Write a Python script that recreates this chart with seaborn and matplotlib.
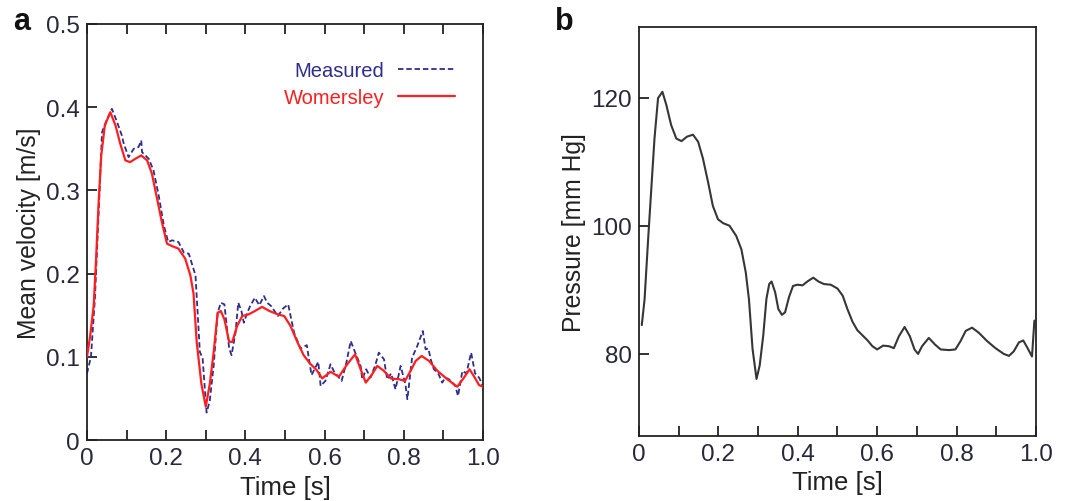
import numpy as np
import pandas as pd
import matplotlib
matplotlib.use("Agg")
import matplotlib.pyplot as plt
import seaborn as sns

# ---------------- data ----------------
# Panel a: Womersley (model) mean velocity [m/s]
wom_t = [0.0, 0.008, 0.017, 0.023, 0.029, 0.036, 0.045, 0.059, 0.072, 0.084, 0.097, 0.109,
         0.122, 0.137, 0.152, 0.164, 0.177, 0.189, 0.202, 0.215, 0.231, 0.248, 0.261, 0.269,
         0.277, 0.289, 0.3, 0.31, 0.32, 0.33, 0.338, 0.347, 0.359, 0.367, 0.379, 0.392,
         0.408, 0.424, 0.442, 0.461, 0.482, 0.498, 0.514, 0.531, 0.547, 0.563, 0.58, 0.594,
         0.615, 0.636, 0.657, 0.677, 0.691, 0.704, 0.72, 0.733, 0.75, 0.767, 0.788, 0.803,
         0.817, 0.83, 0.845, 0.864, 0.885, 0.91, 0.935, 0.952, 0.966, 0.978, 0.99, 1.0]
wom_v = [0.100, 0.125, 0.162, 0.218, 0.282, 0.342, 0.378, 0.394, 0.378, 0.356, 0.336, 0.334,
         0.338, 0.342, 0.336, 0.320, 0.290, 0.262, 0.236, 0.233, 0.230, 0.218, 0.198, 0.176,
         0.118, 0.067, 0.040, 0.067, 0.106, 0.153, 0.155, 0.145, 0.118, 0.118, 0.137, 0.149,
         0.151, 0.155, 0.160, 0.155, 0.151, 0.149, 0.137, 0.118, 0.102, 0.092, 0.084, 0.074,
         0.082, 0.076, 0.091, 0.103, 0.085, 0.069, 0.079, 0.089, 0.083, 0.074, 0.073, 0.071,
         0.083, 0.095, 0.101, 0.095, 0.083, 0.073, 0.064, 0.075, 0.085, 0.076, 0.066, 0.064]

# Panel a: measured mean velocity [m/s]
meas_t = [0.0, 0.01, 0.02, 0.03, 0.038, 0.05, 0.063, 0.076, 0.088, 0.093, 0.105, 0.118,
          0.13, 0.137, 0.139, 0.156, 0.168, 0.181, 0.194, 0.205, 0.215, 0.231, 0.245, 0.257,
          0.274, 0.285, 0.292, 0.302, 0.31, 0.32, 0.33, 0.338, 0.347, 0.359, 0.365, 0.375,
          0.382, 0.39, 0.396, 0.404, 0.412, 0.424, 0.435, 0.447, 0.455, 0.465, 0.482, 0.495,
          0.508, 0.523, 0.539, 0.555, 0.567, 0.584, 0.59, 0.602, 0.615, 0.623, 0.643, 0.655,
          0.666, 0.674, 0.691, 0.695, 0.705, 0.716, 0.728, 0.737, 0.75, 0.758, 0.768, 0.779,
          0.792, 0.804, 0.809, 0.821, 0.834, 0.848, 0.855, 0.862, 0.868, 0.876, 0.887, 0.897,
          0.905, 0.914, 0.93, 0.937, 0.948, 0.958, 0.97, 0.98, 0.99, 1.0]
meas_v = [0.080, 0.100, 0.170, 0.280, 0.370, 0.385, 0.398, 0.382, 0.366, 0.356, 0.340, 0.350,
          0.352, 0.360, 0.346, 0.338, 0.324, 0.294, 0.258, 0.238, 0.240, 0.238, 0.225, 0.224,
          0.198, 0.106, 0.098, 0.033, 0.047, 0.090, 0.153, 0.165, 0.163, 0.110, 0.102, 0.129,
          0.165, 0.155, 0.141, 0.152, 0.161, 0.171, 0.162, 0.173, 0.165, 0.161, 0.149, 0.158,
          0.163, 0.129, 0.110, 0.114, 0.078, 0.094, 0.065, 0.071, 0.091, 0.083, 0.071, 0.093,
          0.119, 0.109, 0.089, 0.073, 0.085, 0.075, 0.090, 0.105, 0.097, 0.073, 0.080, 0.061,
          0.089, 0.067, 0.049, 0.099, 0.113, 0.131, 0.109, 0.110, 0.097, 0.085, 0.080, 0.069,
          0.075, 0.073, 0.065, 0.053, 0.083, 0.080, 0.105, 0.080, 0.075, 0.065]

# Panel b: pressure [mm Hg]
pres_t = [0.007, 0.014, 0.023, 0.031, 0.039, 0.048, 0.059, 0.069, 0.081, 0.094, 0.107, 0.121,
          0.136, 0.149, 0.161, 0.174, 0.186, 0.199, 0.212, 0.228, 0.245, 0.258, 0.269, 0.277,
          0.286, 0.296, 0.304, 0.313, 0.321, 0.328, 0.334, 0.343, 0.351, 0.36, 0.368, 0.378,
          0.388, 0.399, 0.412, 0.424, 0.439, 0.452, 0.466, 0.483, 0.5, 0.513, 0.525, 0.538,
          0.55, 0.563, 0.576, 0.588, 0.6, 0.615, 0.63, 0.642, 0.655, 0.669, 0.682, 0.694,
          0.703, 0.713, 0.73, 0.745, 0.76, 0.781, 0.797, 0.81, 0.823, 0.839, 0.856, 0.877,
          0.898, 0.919, 0.932, 0.944, 0.957, 0.968, 0.978, 0.99, 0.996]
pres_p = [84.5, 88.5, 97.9, 105.8, 113.6, 119.9, 120.9, 118.8, 115.7, 113.6, 113.2, 113.9,
          114.2, 113.1, 110.5, 106.8, 103.1, 101.0, 100.4, 100.0, 98.4, 96.3, 92.7, 88.5,
          80.8, 76.1, 78.2, 82.9, 88.6, 90.9, 91.3, 89.6, 87.0, 86.1, 86.5, 88.9,
          90.6, 90.8, 90.7, 91.3, 91.9, 91.3, 90.9, 90.8, 90.2, 89.1, 87.0, 85.0,
          83.7, 82.9, 82.1, 81.2, 80.7, 81.3, 81.2, 80.9, 82.8, 84.2, 82.8, 80.7,
          80.0, 81.2, 82.5, 81.5, 80.7, 80.6, 80.7, 82.0, 83.6, 84.1, 83.3, 82.0,
          80.9, 80.0, 79.7, 80.4, 81.8, 82.1, 81.0, 79.6, 85.2]

xticks = [0, 0.2, 0.4, 0.6, 0.8, 1.0]
xticklabels = ["0", "0.2", "0.4", "0.6", "0.8", "1.0"]
xminor = [0.1, 0.3, 0.5, 0.7, 0.9]
a_yticks = [0, 0.1, 0.2, 0.3, 0.4, 0.5]
a_yticklabels = ["0", "0.1", "0.2", "0.3", "0.4", "0.5"]
b_yticks = [80, 100, 120]
b_yticklabels = ["80", "100", "120"]

# ---------------- style ----------------
sns.set_style("ticks")
plt.rcParams["font.family"] = ["Liberation Sans", "DejaVu Sans"]
tick_color = "#28283a"
ink = "#222222"

fig = plt.figure(figsize=(10.7, 5.02), dpi=100)
ax1 = fig.add_axes([0.0813, 0.1215, 0.3701, 0.8287])
ax2 = fig.add_axes([0.5972, 0.1295, 0.3710, 0.8147])

meas_df = pd.DataFrame({"t": meas_t, "v": meas_v})
wom_df = pd.DataFrame({"t": wom_t, "v": wom_v})
pres_df = pd.DataFrame({"t": pres_t, "p": pres_p})

sns.lineplot(data=meas_df, x="t", y="v", ax=ax1, color="#2e2e8c", lw=1.3,
             label="Measured", zorder=2)
ax1.lines[-1].set_dashes([3, 1.6])
sns.lineplot(data=wom_df, x="t", y="v", ax=ax1, color="#ff1f1f", lw=1.6,
             label="Womersley", zorder=3)

sns.lineplot(data=pres_df, x="t", y="p", ax=ax2, color="#363636", lw=1.5)

for ax in (ax1, ax2):
    ax.set_xlim(0, 1.0)
    ax.set_xticks(xticks)
    ax.set_xticklabels(xticklabels)
    ax.set_xticks(xminor, minor=True)
    ax.set_xlabel("Time [s]", fontsize=18.5, color=ink, labelpad=4)
    for s in ax.spines.values():
        s.set_visible(True)
        s.set_linewidth(1.3)
        s.set_color(ink)
    ax.tick_params(which="both", direction="in", length=7, width=1.3, color=ink,
                   labelsize=17.5, labelcolor=tick_color, pad=5)

ax1.set_ylim(0, 0.5)
ax1.set_yticks(a_yticks)
ax1.set_yticklabels(a_yticklabels)
ax1.set_ylabel("Mean velocity [m/s]", fontsize=17.8, color=ink, labelpad=4)
ax1.tick_params(axis="x", which="both", top=True)
ax1.tick_params(axis="y", right=False)

ax2.set_ylim(67.2, 131)
ax2.set_yticks(b_yticks)
ax2.set_yticklabels(b_yticklabels)
ax2.set_ylabel("Pressure [mm Hg]", fontsize=17.8, color=ink, labelpad=4)
ax2.tick_params(which="both", top=False, right=False)

leg = ax1.legend(loc="upper right", bbox_to_anchor=(0.975, 0.955), frameon=False,
                 markerfirst=False, fontsize=14.5, handlelength=2.85,
                 handletextpad=0.65, labelspacing=0.4, labelcolor="linecolor")

fig.text(0.012, 0.94, "a", fontsize=22, fontweight="bold", color="#111111")
fig.text(0.519, 0.94, "b", fontsize=22, fontweight="bold", color="#111111")

fig.savefig("out.png", dpi=100)
